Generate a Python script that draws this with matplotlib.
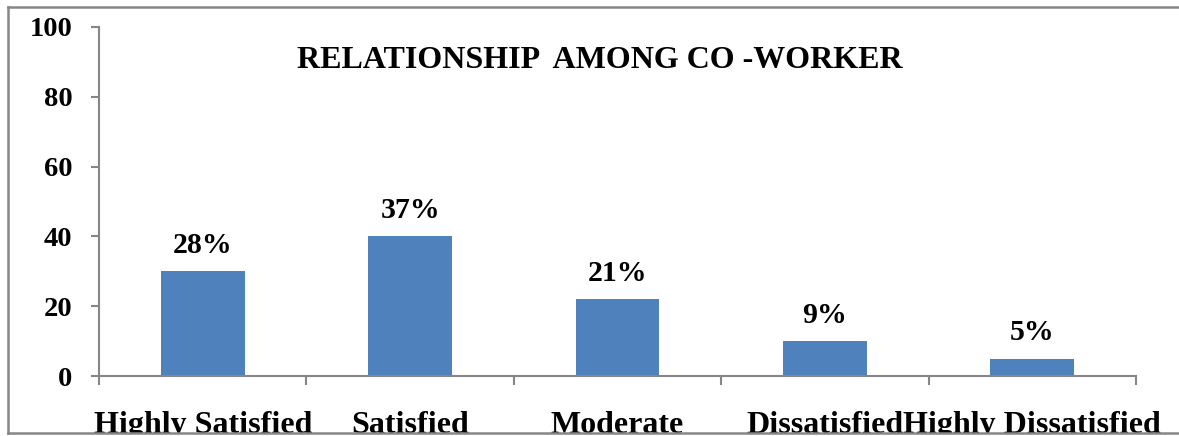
import matplotlib
matplotlib.use("Agg")
import matplotlib.pyplot as plt
from matplotlib.patches import Rectangle
from matplotlib.lines import Line2D

categories = ["Highly Satisfied", "Satisfied", "Moderate", "Dissatisfied", "Highly Dissatisfied"]
counts = [30, 40, 22, 10, 5]
y_ticks = [0, 20, 40, 60, 80, 100]
title = "RELATIONSHIP  AMONG CO -WORKER"

total = sum(counts)
pct_labels = [f"{round(100 * c / total)}%" for c in counts]

W, H, DPI = 1179, 436, 100
fig = plt.figure(figsize=(W / DPI, H / DPI), dpi=DPI)
plt.rcParams["font.family"] = ["Liberation Serif", "DejaVu Serif"]
plt.rcParams["font.weight"] = "bold"

grey = "#868686"
bar_color = "#4F81BD"

ax = fig.add_axes([99 / W, 1 - 376 / H, (1136 - 99) / W, (376 - 27) / H])
x = list(range(len(categories)))
bars = ax.bar(x, counts, width=0.405, color=bar_color, zorder=2)

ax.set_xlim(-0.5, len(categories) - 0.5)
ax.set_ylim(0, 100)
ax.set_yticks(y_ticks)
ax.set_yticklabels([str(v) for v in y_ticks], fontsize=20.5, fontweight="bold")

# category boundaries carry the tick marks; names sit on minor ticks
ax.set_xticks([i - 0.5 for i in range(len(categories) + 1)])
ax.set_xticklabels([])
ax.set_xticks(x, minor=True)
ax.set_xticklabels(categories, minor=True, fontsize=23, fontweight="bold")
ax.tick_params(axis="x", which="major", length=6.5, width=1.5, color=grey, direction="out")
ax.tick_params(axis="x", which="minor", length=0, pad=25)
ax.tick_params(axis="y", length=6, width=1.5, color=grey, pad=13)

for s in ["top", "right"]:
    ax.spines[s].set_visible(False)
for s in ["left", "bottom"]:
    ax.spines[s].set_color(grey)
    ax.spines[s].set_linewidth(1.5)

for rect, lab in zip(bars, pct_labels):
    ax.annotate(lab, (rect.get_x() + rect.get_width() / 2, rect.get_height()),
                xytext=(0, 13), textcoords="offset points",
                ha="center", va="baseline", fontsize=21.5, fontweight="bold")

ax.text(0.483, 0.905, title, transform=ax.transAxes, ha="center", va="center",
        fontsize=23, fontweight="bold")

# outer chart frame: left, top and bottom edges, cropped below the bottom edge
fig.patches.append(Rectangle((0, 0), 1, 3 / H, transform=fig.transFigure,
                             facecolor="white", edgecolor="none", zorder=10))
fy_top, fy_bot, fx_left = 1 - 7 / H, 3 / H, 8 / W
for xs, ys in [([fx_left, fx_left], [fy_bot, fy_top]),
               ([fx_left, 1], [fy_top, fy_top]),
               ([fx_left, 1], [fy_bot, fy_bot])]:
    fig.lines.append(Line2D(xs, ys, transform=fig.transFigure, color=grey,
                            linewidth=1.8, zorder=11))

fig.savefig("out.png", dpi=DPI, facecolor="white")
